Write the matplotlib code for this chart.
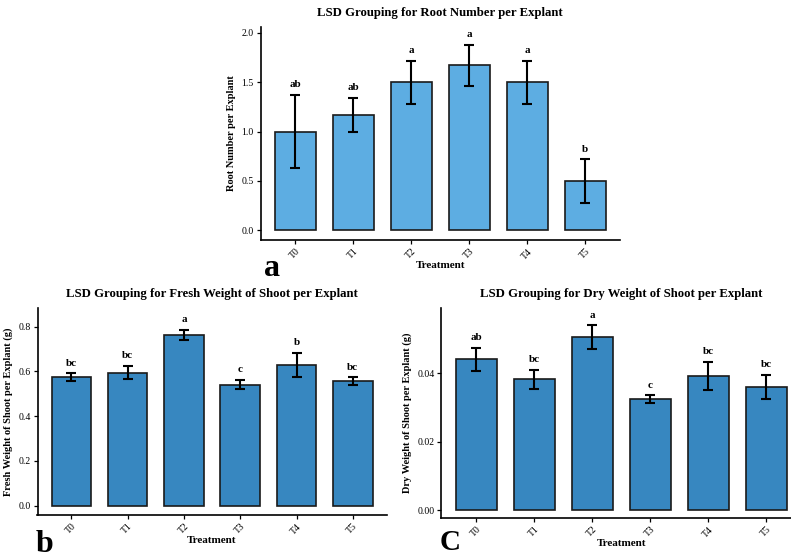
import matplotlib
matplotlib.use("Agg")
import matplotlib.pyplot as plt

plt.rcParams['font.family'] = ['Liberation Serif', 'DejaVu Serif']

treatments = ["T0", "T1", "T2", "T3", "T4", "T5"]

root_mean = [1.00, 1.17, 1.50, 1.67, 1.50, 0.50]
root_se = [0.37, 0.17, 0.22, 0.21, 0.22, 0.22]
root_grp = ["ab", "ab", "a", "a", "a", "b"]

fresh_mean = [0.574, 0.594, 0.763, 0.541, 0.629, 0.557]
fresh_se = [0.018, 0.030, 0.022, 0.022, 0.054, 0.016]
fresh_grp = ["bc", "bc", "a", "c", "b", "bc"]

dry_mean = [0.0441, 0.0382, 0.0505, 0.0324, 0.0392, 0.0360]
dry_se = [0.0034, 0.0028, 0.0035, 0.0012, 0.0042, 0.0035]
dry_grp = ["ab", "bc", "a", "c", "bc", "bc"]

W, H = 791, 558
fig = plt.figure(figsize=(W / 100, H / 100), dpi=100)


def px_axes(l, r, t, b):
    return fig.add_axes([l / W, 1 - b / H, (r - l) / W, (b - t) / H])


def panel(ax, means, ses, groups, color, title, ylabel, ylim, yticks, yfmt):
    x = list(range(len(treatments)))
    ax.bar(x, means, width=0.7, color=color, edgecolor="#1a1a1a", linewidth=1.2, zorder=2)
    ax.errorbar(x, means, yerr=ses, fmt="none", ecolor="black", elinewidth=1.5,
                capsize=3.8, capthick=1.5, zorder=3)
    for xi, m, s, g in zip(x, means, ses, groups):
        ax.annotate(g, (xi, m + s), xytext=(0, 4), textcoords="offset points",
                    ha="center", va="bottom", fontsize=8, fontweight="bold")
    ax.set_xlim(-0.6, len(treatments) - 0.4)
    ax.set_ylim(*ylim)
    ax.set_yticks(yticks)
    ax.set_yticklabels([yfmt.format(v) for v in yticks], fontsize=7)
    ax.set_xticks(x)
    ax.set_xticklabels(treatments, rotation=45, ha="right", rotation_mode="anchor", fontsize=7)
    for s in ["top", "right"]:
        ax.spines[s].set_visible(False)
    for s in ["left", "bottom"]:
        ax.spines[s].set_linewidth(1.2)
    ax.tick_params(length=3, width=0.9, pad=2)
    ax.set_title(title, fontsize=9.2, fontweight="bold", pad=8)
    ax.set_ylabel(ylabel, fontsize=7.5, fontweight="bold", labelpad=4)
    ax.set_xlabel("Treatment", fontsize=8, fontweight="bold", labelpad=0)


ax_a = px_axes(260.5, 620, 27, 240)
panel(ax_a, root_mean, root_se, root_grp, "#5dade2",
      "LSD Grouping for Root Number per Explant", "Root Number per Explant",
      (-0.1, 2.06), [0.0, 0.5, 1.0, 1.5, 2.0], "{:.1f}")

ax_b = px_axes(37.5, 386.6, 308, 515)
panel(ax_b, fresh_mean, fresh_se, fresh_grp, "#3787c0",
      "LSD Grouping for Fresh Weight of Shoot per Explant", "Fresh Weight of Shoot per Explant (g)",
      (-0.0416, 0.883), [0.0, 0.2, 0.4, 0.6, 0.8], "{:.1f}")

ax_c = px_axes(441.5, 801, 308, 518)
panel(ax_c, dry_mean, dry_se, dry_grp, "#3787c0",
      "LSD Grouping for Dry Weight of Shoot per Explant", "Dry Weight of Shoot per Explant (g)",
      (-0.0023, 0.0591), [0.0, 0.02, 0.04], "{:.2f}")

fig.text(272 / W, 1 - 269 / H, "a", fontsize=23, fontweight="bold", ha="center", va="center")
fig.text(44 / W, 1 - 545 / H, "b", fontsize=23, fontweight="bold", ha="center", va="center")
fig.text(450 / W, 1 - 543 / H, "C", fontsize=21, fontweight="bold", ha="center", va="center")

fig.savefig("out.png", dpi=100)
